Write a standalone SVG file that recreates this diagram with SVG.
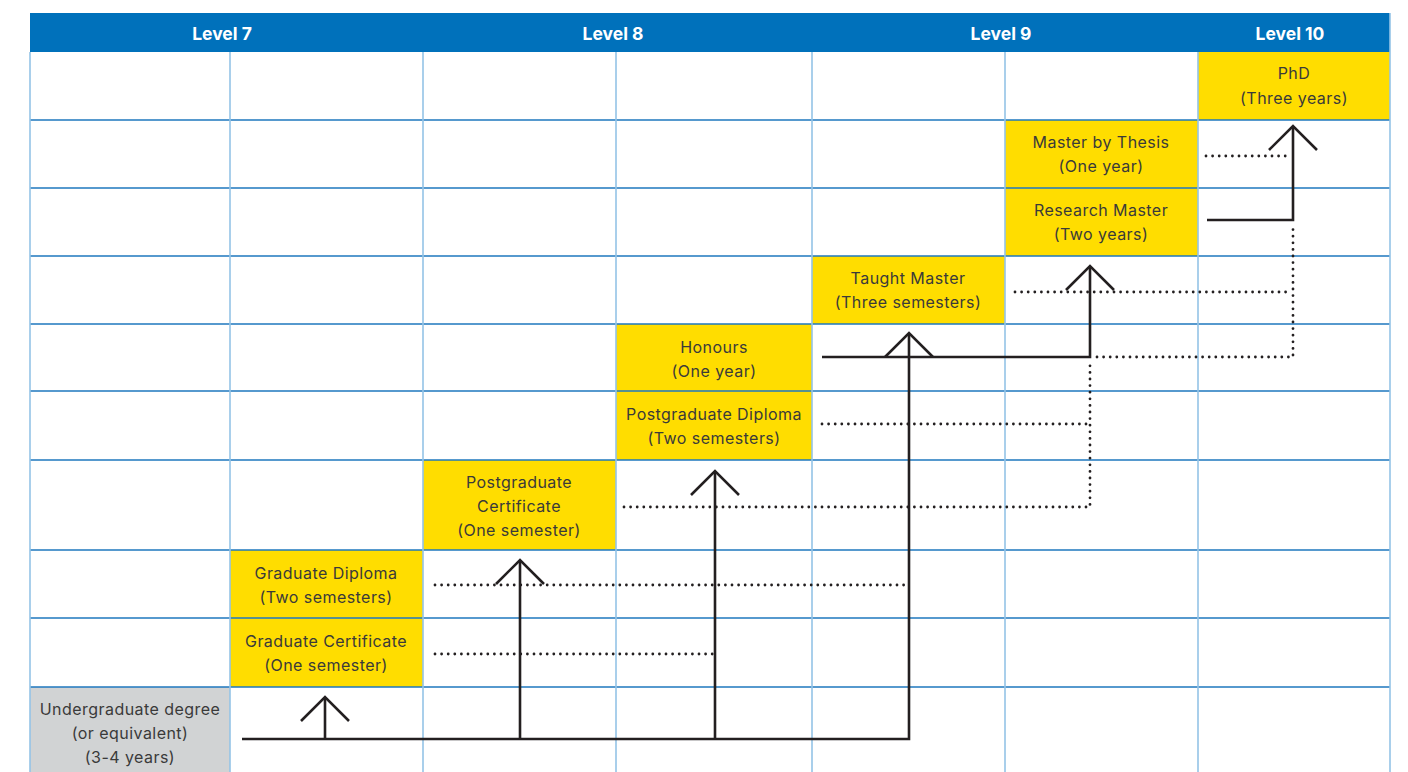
<svg xmlns="http://www.w3.org/2000/svg" width="1408" height="772" viewBox="0 0 1408 772">
<style>
.hdr{font-family:Inter,"Liberation Sans",sans-serif;font-weight:700;font-size:17.5px;fill:#fff;text-anchor:middle}
.t{font-family:Inter,"Liberation Sans",sans-serif;font-size:16px;letter-spacing:0.45px;fill:#3a3a3a;text-anchor:middle}
.y{fill:#ffdd00}
.g{fill:#d1d3d4}
.vl{stroke:#94c4e7;stroke-width:1.6}
.hl{stroke:#1f78bf;stroke-width:1.4}
.sol{fill:none;stroke:#231f20;stroke-width:2.6}
.dot{fill:none;stroke:#231f20;stroke-width:2.8;stroke-linecap:round;stroke-dasharray:0 6.6}
</style>
<defs>
<marker id="chev" markerUnits="userSpaceOnUse" viewBox="-28 -28 32 56" refX="0" refY="0" markerWidth="32" markerHeight="56" orient="auto">
<path d="M-24,-24 L0,0 L-24,24" fill="none" stroke="#231f20" stroke-width="2.6"/>
</marker>
</defs>
<rect x="0" y="0" width="1408" height="772" fill="#fff"/>
<g id="header">
<rect x="30" y="13" width="1360" height="39" fill="#0071bb"/>
<text class="hdr" x="222" y="40">Level 7</text>
<text class="hdr" x="613" y="40">Level 8</text>
<text class="hdr" x="1001" y="40">Level 9</text>
<text class="hdr" x="1290" y="40">Level 10</text>
</g>
<g id="phd"><rect class="y" x="1198" y="52" width="192" height="68"/><text class="t" x="1294" y="79">PhD</text><text class="t" x="1294" y="104">(Three years)</text></g>
<g id="master-thesis"><rect class="y" x="1005" y="120" width="193" height="68"/><text class="t" x="1101" y="148">Master by Thesis</text><text class="t" x="1101" y="172">(One year)</text></g>
<g id="research-master"><rect class="y" x="1005" y="188" width="193" height="68"/><text class="t" x="1101" y="216">Research Master</text><text class="t" x="1101" y="240">(Two years)</text></g>
<g id="taught-master"><rect class="y" x="812" y="256" width="193" height="68"/><text class="t" x="908" y="284">Taught Master</text><text class="t" x="908" y="308">(Three semesters)</text></g>
<g id="honours"><rect class="y" x="616" y="324" width="196" height="67"/><text class="t" x="714" y="353">Honours</text><text class="t" x="714" y="377">(One year)</text></g>
<g id="pg-diploma"><rect class="y" x="616" y="391" width="196" height="69"/><text class="t" x="714" y="420">Postgraduate Diploma</text><text class="t" x="714" y="444">(Two semesters)</text></g>
<g id="pg-certificate"><rect class="y" x="423" y="460" width="193" height="90"/><text class="t" x="519" y="488">Postgraduate</text><text class="t" x="519" y="512">Certificate</text><text class="t" x="519" y="536">(One semester)</text></g>
<g id="grad-diploma"><rect class="y" x="230" y="550" width="193" height="68"/><text class="t" x="326" y="579">Graduate Diploma</text><text class="t" x="326" y="603">(Two semesters)</text></g>
<g id="grad-certificate"><rect class="y" x="230" y="618" width="193" height="69"/><text class="t" x="326" y="647">Graduate Certificate</text><text class="t" x="326" y="671">(One semester)</text></g>
<g id="undergraduate"><rect class="g" x="30" y="687" width="200" height="85"/><text class="t" x="130" y="715">Undergraduate degree</text><text class="t" x="130" y="739">(or equivalent)</text><text class="t" x="130" y="763">(3-4 years)</text></g>
<g id="grid">
<path class="hl" d="M30,120H1390M30,188H1390M30,256H1390M30,324H1390M30,391H1390M30,460H1390M30,550H1390M30,618H1390M30,687H1390"/>
<path class="vl" d="M30,52V772M230,52V772M423,52V772M616,52V772M812,52V772M1005,52V772M1198,52V772M1390,13V772"/>
</g>
<g id="connectors">
<path class="dot" d="M435,654H715"/>
<path class="dot" d="M435,585H909"/>
<path class="dot" d="M624,507H1090V363"/>
<path class="dot" d="M822,424H1088"/>
<path class="dot" d="M1097,357H1293V227"/>
<path class="dot" d="M1015,292H1290"/>
<path class="dot" d="M1206,156H1287"/>
<path class="sol" d="M242,739H909V333" marker-end="url(#chev)"/>
<path class="sol" d="M325,739V697" marker-end="url(#chev)"/>
<path class="sol" d="M520,739V560" marker-end="url(#chev)"/>
<path class="sol" d="M715,739V471" marker-end="url(#chev)"/>
<path class="sol" d="M822,357H1090V266" marker-end="url(#chev)"/>
<path class="sol" d="M1207,220H1293V126" marker-end="url(#chev)"/>
</g>
</svg>
